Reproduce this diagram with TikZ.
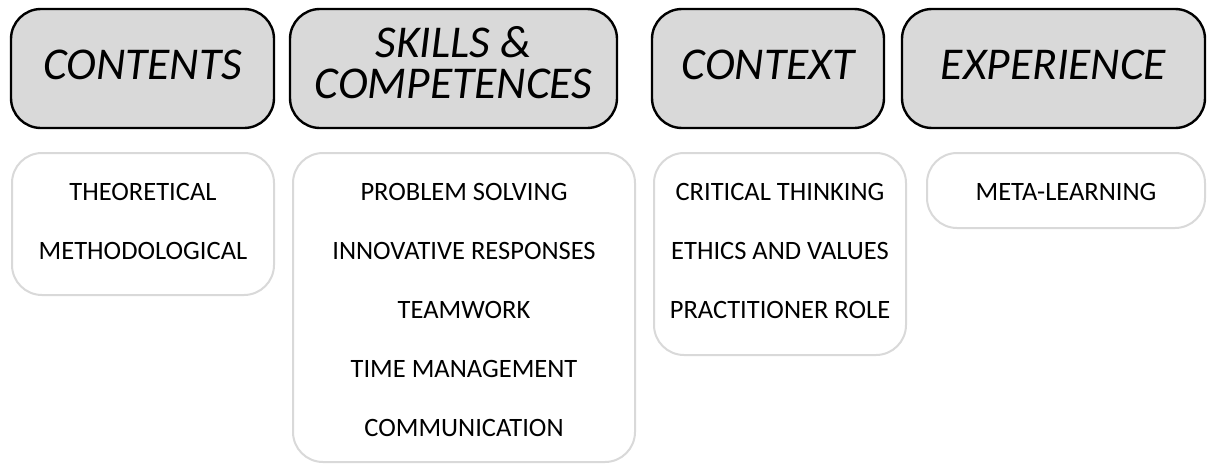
\documentclass[tikz,border=0pt]{standalone}
\usepackage{fontspec}
\setmainfont{Carlito}
\begin{document}
\begin{tikzpicture}[x=1pt,y=-1pt,
  headbox/.style={draw=black, line width=2.4pt, fill=black!15, rounded corners=30pt,
    inner sep=0pt, minimum height=119pt},
  headtext/.style={inner sep=0pt, font=\fontsize{45.5}{40}\selectfont\itshape},
  listbox/.style={draw=black!15, line width=2pt, fill=white, rounded corners=30pt, inner sep=0pt},
  item/.style={inner sep=0pt, font=\fontsize{26.5}{26.5}\selectfont}]
\useasboundingbox (0,0) rectangle (1211,466);
% category headers
\node[headbox, minimum width=263pt] (h1) at (142.5,68.5) {};
\node[headbox, minimum width=327pt] (h2) at (453.5,68.5) {};
\node[headbox, minimum width=232pt] (h3) at (768,68.5) {};
\node[headbox, minimum width=303pt] (h4) at (1053.5,68.5) {};
\node[headtext] (t1) at (142.5,64.5) {CONTENTS};
\node[headtext] (t2a) at (453.5,42.5) {SKILLS \&};
\node[headtext] (t2b) at (453.5,83.5) {COMPETENCES};
\node[headtext] (t3) at (768,64.5) {CONTEXT};
\node[headtext] (t4) at (1053.5,64.5) {EXPERIENCE};
% item lists
\node[listbox, minimum width=262pt, minimum height=142pt] (l1) at (143,224) {};
\node[listbox, minimum width=342pt, minimum height=309pt] (l2) at (464,307.5) {};
\node[listbox, minimum width=252pt, minimum height=202pt] (l3) at (780,254) {};
\node[listbox, minimum width=278pt, minimum height=75pt] (l4) at (1066,190.5) {};
% items
\node[item] (a1) at (143,192) {THEORETICAL};
\node[item] (a2) at (143,251) {METHODOLOGICAL};
\node[item] (b1) at (464,192) {PROBLEM SOLVING};
\node[item] (b2) at (464,251) {INNOVATIVE RESPONSES};
\node[item] (b3) at (464,310) {TEAMWORK};
\node[item] (b4) at (464,369) {TIME MANAGEMENT};
\node[item] (b5) at (464,428) {COMMUNICATION};
\node[item] (c1) at (780,192) {CRITICAL THINKING};
\node[item] (c2) at (780,251) {ETHICS AND VALUES};
\node[item] (c3) at (780,310) {PRACTITIONER ROLE};
\node[item] (d1) at (1066,192) {META-LEARNING};
\end{tikzpicture}
\end{document}
